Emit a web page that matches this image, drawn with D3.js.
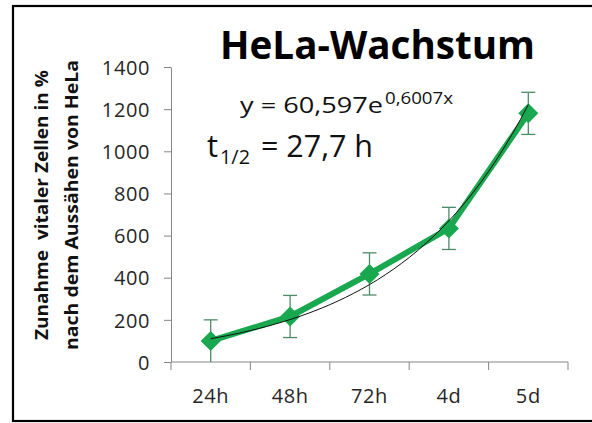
<!DOCTYPE html>
<html>
<head>
<meta charset="utf-8">
<script src="https://cdn.jsdelivr.net/npm/d3@7/dist/d3.min.js"></script>
<style>
    body { margin: 0; background: #fff; }
    svg text { white-space: pre; }
</style>
</head>
<body>
<div id="chart"></div>
<script>
// Chart data
var categories = ["24h", "48h", "72h", "4d", "5d"];
var values = [100, 216, 418, 634, 1180];
var errors = [100, 100, 100, 100, 100];
var yTicks = [0, 200, 400, 600, 800, 1000, 1200, 1400];

// exponential trendline as printed in the chart: y = a * e^(b*x), x = 1..n
var trendA = 60.597;
var trendB = 0.6007;

var width = 592, height = 423;
var plot = { left: 171, right: 568, top: 67, bottom: 362 };

var svg = d3.select("#chart")
    .append("svg")
    .attr("width", width)
    .attr("height", height);

// chart border (right edge is cut off in the original)
svg.append("rect")
    .attr("x", 13)
    .attr("y", 6)
    .attr("width", 640)
    .attr("height", 415)
    .attr("fill", "#fff")
    .attr("stroke", "#000")
    .attr("stroke-width", 2.2);

var xscale = d3.scaleBand()
    .domain(categories)
    .range([plot.left, plot.right]);

var yscale = d3.scaleLinear()
    .domain([0, 1400])
    .range([plot.bottom, plot.top]);

var xmid = function(c) { return xscale(c) + xscale.bandwidth() / 2; };

var font = "'Open Sans', sans-serif";

// y-axis
var yAxis = svg.append("g")
    .attr("transform", "translate(" + plot.left + ",0)")
    .call(d3.axisLeft(yscale).tickValues(yTicks).tickFormat(d3.format("d"))
        .tickSize(7).tickPadding(14).tickSizeOuter(0));
yAxis.select(".domain").attr("stroke", "#868686");
yAxis.selectAll(".tick line").attr("stroke", "#868686");
yAxis.selectAll(".tick text")
    .attr("fill", "#262626")
    .style("font-family", font)
    .style("font-size", "20px")
    .style("letter-spacing", "0.6px")
    .attr("dy", "0.36em");

// x-axis, ticks between categories
var xAxis = svg.append("g")
    .attr("transform", "translate(0," + plot.bottom + ")");
xAxis.append("line")
    .attr("x1", plot.left).attr("x2", plot.right)
    .attr("stroke", "#868686");
var bounds = categories.map(function(c) { return xscale(c); }).concat([plot.right]);
xAxis.selectAll("line.tk")
    .data(bounds)
    .enter()
    .append("line")
    .attr("class", "tk")
    .attr("x1", function(d) { return d; })
    .attr("x2", function(d) { return d; })
    .attr("y1", 0).attr("y2", 8)
    .attr("stroke", "#868686");
xAxis.selectAll("text")
    .data(categories)
    .enter()
    .append("text")
    .attr("x", xmid)
    .attr("y", 41)
    .attr("text-anchor", "middle")
    .attr("fill", "#262626")
    .style("font-family", font)
    .style("font-size", "20px")
    .style("letter-spacing", "0.6px")
    .text(function(d) { return d; });

var data = categories.map(function(c, i) {
    return { cat: c, v: values[i], e: errors[i] };
});

// green series line
svg.append("path")
    .datum(data)
    .attr("fill", "none")
    .attr("stroke", "#19a84f")
    .attr("stroke-width", 6)
    .attr("stroke-linejoin", "round")
    .attr("d", d3.line()
        .x(function(d) { return xmid(d.cat); })
        .y(function(d) { return yscale(d.v); }));

// error bars
var eb = svg.append("g")
    .attr("stroke", "#4f8a68")
    .attr("stroke-width", 1.3);
data.forEach(function(d) {
    var x = xmid(d.cat);
    var y1 = yscale(d.v + d.e), y0 = yscale(Math.max(0, d.v - d.e));
    eb.append("line").attr("x1", x).attr("x2", x).attr("y1", y1).attr("y2", y0);
    eb.append("line").attr("x1", x - 7).attr("x2", x + 7).attr("y1", y1).attr("y2", y1);
    if (d.v - d.e > 0) {
        eb.append("line").attr("x1", x - 7).attr("x2", x + 7).attr("y1", y0).attr("y2", y0);
    }
});

// diamond markers
svg.selectAll("path.mk")
    .data(data)
    .enter()
    .append("path")
    .attr("class", "mk")
    .attr("d", function(d) {
        var x = xmid(d.cat), y = yscale(d.v), r = 10;
        return "M" + x + "," + (y - r) + "L" + (x + r) + "," + y + "L" + x + "," + (y + r) + "L" + (x - r) + "," + y + "Z";
    })
    .attr("fill", "#19a84f");

// exponential trendline
var trendPts = d3.range(1, categories.length + 0.001, 0.1).map(function(t) {
    return { t: t, y: trendA * Math.exp(trendB * t) };
});
var tx = d3.scaleLinear()
    .domain([1, categories.length])
    .range([xmid(categories[0]), xmid(categories[categories.length - 1])]);
svg.append("path")
    .datum(trendPts)
    .attr("fill", "none")
    .attr("stroke", "#111")
    .attr("stroke-width", 1)
    .attr("d", d3.line()
        .x(function(d) { return tx(d.t); })
        .y(function(d) { return yscale(d.y); }));

// title
svg.append("text")
    .attr("x", 220)
    .attr("y", 59)
    .attr("textLength", 315)
    .attr("lengthAdjust", "spacingAndGlyphs")
    .style("font-family", font)
    .style("font-weight", "bold")
    .style("font-size", "40px")
    .attr("fill", "#000")
    .text("HeLa-Wachstum");

// annotation texts: trend equation and doubling time
var notes = [
    { t: "y = 60,597e", x: 240, y: 113, size: 22, len: 143 },
    { t: "0,6007x", x: 385, y: 104, size: 16, len: 68 },
    { t: "t", x: 207, y: 157, size: 31, len: null },
    { t: "1/2", x: 220, y: 164, size: 20, len: 30 },
    { t: "= 27,7 h", x: 261, y: 157, size: 31, len: 112 }
];
svg.selectAll("text.note")
    .data(notes)
    .enter()
    .append("text")
    .attr("class", "note")
    .attr("x", function(d) { return d.x; })
    .attr("y", function(d) { return d.y; })
    .attr("textLength", function(d) { return d.len; })
    .attr("lengthAdjust", "spacingAndGlyphs")
    .attr("fill", "#111")
    .style("font-family", font)
    .style("font-size", function(d) { return d.size + "px"; })
    .text(function(d) { return d.t; });

// y-axis title, two lines
var ytitle = ["Zunahme  vitaler Zellen in %", "nach dem Aussähen von HeLa"];
svg.selectAll("text.yt")
    .data(ytitle)
    .enter()
    .append("text")
    .attr("class", "yt")
    .attr("transform", function(d, i) { return "translate(" + (48 + i * 30) + ",205) rotate(-90)"; })
    .attr("text-anchor", "middle")
    .attr("textLength", function(d, i) { return i === 0 ? 270 : 290; })
    .attr("lengthAdjust", "spacingAndGlyphs")
    .style("font-family", font)
    .style("font-weight", "bold")
    .style("font-size", "17px")
    .attr("fill", "#111")
    .text(function(d) { return d; });
</script>
</body>
</html>
